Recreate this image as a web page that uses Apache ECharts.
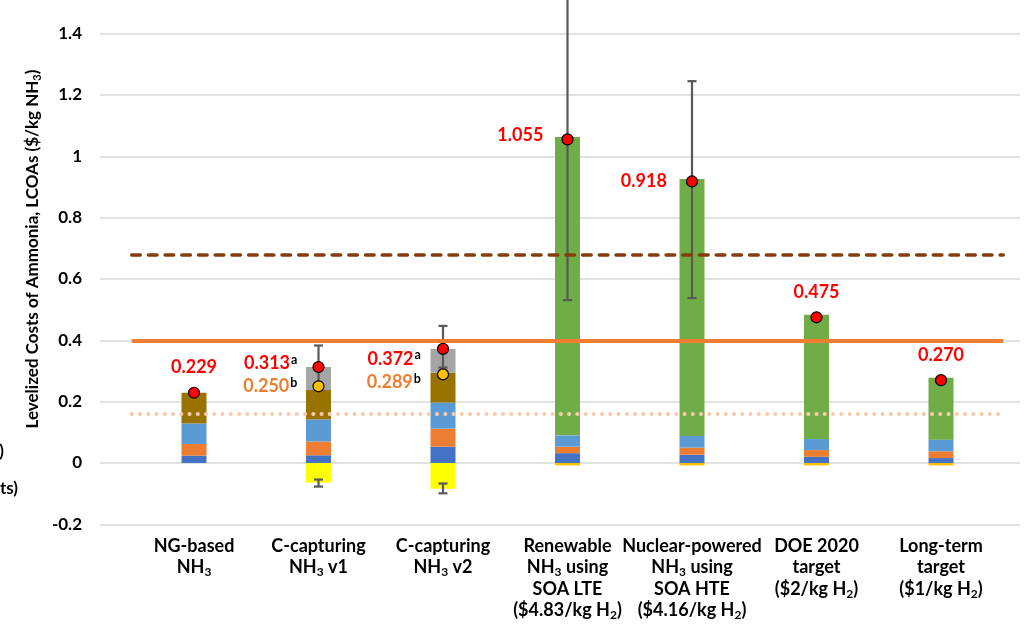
<!DOCTYPE html>
<html>
<head>
<meta charset="utf-8">
<script src="https://cdn.jsdelivr.net/npm/echarts@6/dist/echarts.min.js"></script>
<style>
html,body{margin:0;padding:0;background:#fff;}
#c{width:1026px;height:632px;}
</style>
</head>
<body>
<div id="c"></div>
<script>
// ---- data ----
const categories = ['NG-based\nNH₃', 'C-capturing\nNH₃ v1', 'C-capturing\nNH₃ v2',
  'Renewable\nNH₃ using\nSOA LTE\n($4.83/kg H₂)', 'Nuclear-powered\nNH₃ using\nSOA HTE\n($4.16/kg H₂)',
  'DOE 2020\ntarget\n($2/kg H₂)', 'Long-term\ntarget\n($1/kg H₂)'];
const o2Credit   = [0, 0, 0, -0.008, -0.008, -0.008, -0.008];
const co2Credit  = [0, -0.064, -0.084, 0, 0, 0, 0];
const costBlue   = [0.024, 0.025, 0.053, 0.032, 0.027, 0.020, 0.016];
const costOrange = [0.038, 0.045, 0.059, 0.021, 0.023, 0.022, 0.022];
const costLtBlue = [0.067, 0.072, 0.085, 0.037, 0.038, 0.036, 0.038];
const costBrown  = [0.100, 0.096, 0.097, 0, 0, 0, 0];
const costGray   = [0, 0.075, 0.078, 0, 0, 0, 0];
const costGreen  = [0, 0, 0, 0.973, 0.838, 0.405, 0.202];
const totalA     = [0.229, 0.313, 0.372, 1.055, 0.918, 0.475, 0.270];
const totalB     = [null, 0.250, 0.289, null, null, null, null];
const totalALow  = [null, 0.255, 0.311, 0.531, 0.538, null, null];
const totalAHigh = [null, 0.383, 0.447, 1.59, 1.245, null, null];
const creditLow  = [null, -0.077, -0.099, null, null, null, null];
const creditHigh = [null, -0.054, -0.067, null, null, null, null];
const refDashed  = 0.675;
const refSolid   = 0.40;
const refDotted  = 0.157;
const supA = [null, 'a', 'a', null, null, null, null];
const supB = [null, 'b', 'b', null, null, null, null];
const yTitle = 'Levelized Costs of Ammonia, LCOAs ($/kg NH₃)';

// ---- layout config ----
const FONT = 'Lato';
const labelA = [
  {position: 'top', distance: 9, offset: [0, 0]},
  {position: 'left', distance: 15, offset: [0, -4]},
  {position: 'left', distance: 16, offset: [0, 10]},
  {position: 'left', distance: 18, offset: [0, -4]},
  {position: 'left', distance: 19, offset: [0, 0]},
  {position: 'top', distance: 9, offset: [0, 0]},
  {position: 'top', distance: 9, offset: [0, 0]}
];
const labelB = [null,
  {position: 'left', distance: 15, offset: [0, 0]},
  {position: 'left', distance: 16, offset: [0, 8]},
  null, null, null, null];

function subRich(s) {
  return s.replace(/₃/g, '{sub|3}').replace(/₂/g, '{sub|2}');
}

const chart = echarts.init(document.getElementById('c'), null, {renderer: 'canvas'});

const Y_MIN = -0.2, Y_MAX = 1.6, Y_INT = 0.2;
const GRID_TOP = -27.7, GRID_BOTTOM = 107.7;

function barSeries(name, data, color) {
  return {
    name, type: 'bar', stack: 'total', xAxisIndex: 1, yAxisIndex: 1,
    data, barWidth: 25, itemStyle: {color}, z: 2, silent: true
  };
}

function errSeries(lo, hi, capTop, capBottom) {
  const d = [];
  lo.forEach((v, i) => { if (v !== null) d.push([i, v, hi[i]]); });
  return {
    type: 'custom', xAxisIndex: 1, yAxisIndex: 1, z: 3, silent: true,
    data: d,
    renderItem: function (params, api) {
      const x = api.value(0);
      const p1 = api.coord([x, api.value(1)]);
      const p2 = api.coord([x, api.value(2)]);
      const hw = 4.5;
      const st = {stroke: '#595959', lineWidth: 2.2};
      const ch = [
        {type: 'line', shape: {x1: p1[0], y1: p1[1], x2: p2[0], y2: p2[1]}, style: st}
      ];
      if (capTop) ch.push({type: 'line', shape: {x1: p2[0] - hw, y1: p2[1], x2: p2[0] + hw, y2: p2[1]}, style: st});
      if (capBottom) ch.push({type: 'line', shape: {x1: p1[0] - hw, y1: p1[1], x2: p1[0] + hw, y2: p1[1]}, style: st});
      return {type: 'group', children: ch};
    }
  };
}

function dotSeries(vals, sups, cfgs, color, textColor) {
  const data = vals.map((v, i) => {
    if (v === null) return null;
    const c = cfgs[i];
    return {
      value: [i, v],
      label: {
        show: true, position: c.position, distance: c.distance, offset: c.offset,
        formatter: '{v|' + v.toFixed(3) + '}' + (sups[i] ? '{s|' + sups[i] + '}' : '')
      }
    };
  }).filter(d => d !== null);
  return {
    type: 'scatter', xAxisIndex: 1, yAxisIndex: 1, z: 4, silent: true,
    symbol: 'circle', symbolSize: 11,
    itemStyle: {color, borderColor: '#000', borderWidth: 1.2, opacity: 1},
    label: {
      rich: {
        v: {fontFamily: FONT, fontWeight: 'bold', fontSize: 18, color: textColor, lineHeight: 20},
        s: {fontFamily: FONT, fontWeight: 'bold', fontSize: 12.5, color: '#000', verticalAlign: 'top', lineHeight: 20, padding: [0, 0, 0, 1]}
      }
    },
    data
  };
}

const option = {
  animation: false,
  backgroundColor: '#fff',
  grid: [
    {left: 100, right: 6, top: GRID_TOP, bottom: GRID_BOTTOM, outerBoundsMode: 'none', containLabel: false},
    {left: 131.75, right: 22.75, top: GRID_TOP, bottom: GRID_BOTTOM, outerBoundsMode: 'none', containLabel: false}
  ],
  xAxis: [
    {type: 'value', gridIndex: 0, min: 0, max: 1, show: false},
    {
      type: 'category', gridIndex: 1, data: categories,
      axisLine: {show: false}, axisTick: {show: false},
      axisLabel: {
        interval: 0, margin: 11, color: '#000',
        fontFamily: FONT, fontWeight: 'bold', fontSize: 18, lineHeight: 21.5,
        formatter: v => subRich(v),
        rich: {
          sub: {fontFamily: FONT, fontWeight: 'bold', fontSize: 12, verticalAlign: 'bottom', lineHeight: 21.5, color: '#000'}
        }
      }
    }
  ],
  yAxis: [
    {
      type: 'value', gridIndex: 0, min: Y_MIN, max: Y_MAX, interval: Y_INT,
      axisLine: {show: false}, axisTick: {show: false},
      splitLine: {show: true, lineStyle: {color: '#d9d9d9', width: 1.5}},
      axisLabel: {
        margin: 18, color: '#000', fontFamily: FONT, fontWeight: 'bold', fontSize: 17,
        formatter: v => (Math.round(v * 10) / 10).toString()
      }
    },
    {
      type: 'value', gridIndex: 1, min: Y_MIN, max: Y_MAX, interval: Y_INT,
      show: false, splitLine: {show: false}
    }
  ],
  graphic: [
    {
      type: 'text', x: 33, y: 249, rotation: Math.PI / 2,
      style: {
        text: subRich(yTitle), textAlign: 'center', textVerticalAlign: 'middle',
        fontFamily: FONT, fontWeight: 'bold', fontSize: 17, fill: '#000',
        rich: {sub: {fontFamily: FONT, fontWeight: 'bold', fontSize: 11, verticalAlign: 'bottom', lineHeight: 20}}
      }
    },
    {type: 'text', x: 4, y: 452, style: {text: ')', textAlign: 'right', textVerticalAlign: 'middle', fontFamily: FONT, fontWeight: 'bold', fontSize: 17, fill: '#000'}},
    {type: 'text', x: 18, y: 489, style: {text: 'ts)', textAlign: 'right', textVerticalAlign: 'middle', fontFamily: FONT, fontWeight: 'bold', fontSize: 17, fill: '#000'}}
  ],
  series: [
    barSeries('O2 credit', o2Credit, '#FFC000'),
    barSeries('CO2 credit', co2Credit, '#FFFF00'),
    barSeries('Cost 1', costBlue, '#4472C4'),
    barSeries('Cost 2', costOrange, '#ED7D31'),
    barSeries('Cost 3', costLtBlue, '#5B9BD5'),
    barSeries('Cost 4', costBrown, '#997300'),
    barSeries('Cost 5', costGray, '#A5A5A5'),
    barSeries('Cost 6', costGreen, '#70AD47'),
    {
      type: 'line', xAxisIndex: 1, yAxisIndex: 1, data: [], silent: true, z: 1,
      markLine: {
        silent: true, symbol: ['none', 'none'], label: {show: false}, animation: false,
        data: [
          {yAxis: refDashed, lineStyle: {color: '#843C0C', width: 3.6, type: [8.5, 8.2], cap: 'round'}},
          {yAxis: refSolid, lineStyle: {color: '#ED7D31', width: 3.8, type: 'solid'}},
          {yAxis: refDotted, lineStyle: {color: '#F8CBAD', width: 4, type: [0.1, 8.15], cap: 'round'}}
        ]
      }
    },
    errSeries(totalALow, totalAHigh, true, true),
    errSeries(creditLow, creditHigh, true, true),
    dotSeries(totalA, supA, labelA, '#FF0000', '#FF0000'),
    dotSeries(totalB, supB, labelB, '#FFC000', '#ED7D31')
  ]
};
chart.setOption(option);
</script>
</body>
</html>
